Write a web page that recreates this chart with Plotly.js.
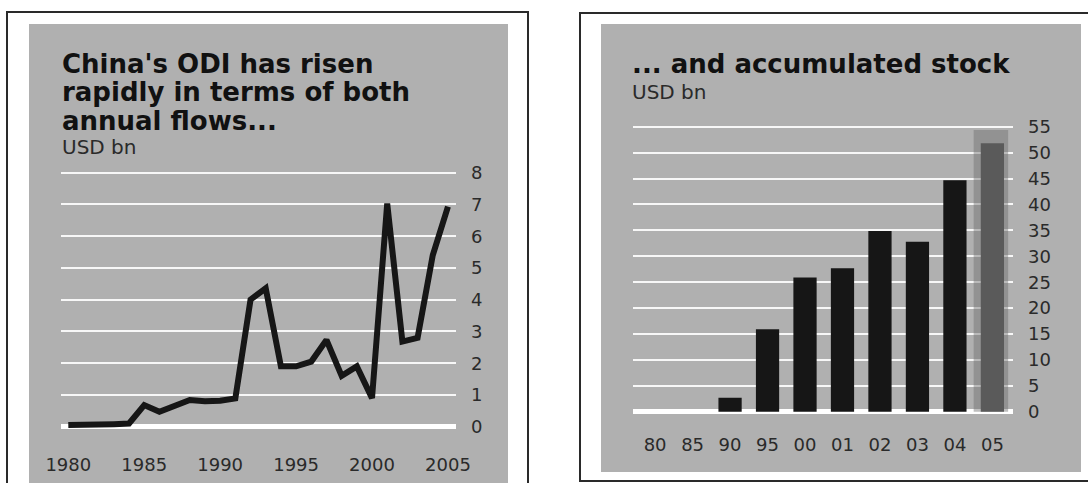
<!DOCTYPE html>
<html>
<head>
<meta charset="utf-8">
<script src="https://cdn.plot.ly/plotly-3.0.1.min.js"></script>
<style>
  html, body { margin: 0; padding: 0; background: #ffffff; }
  #chart { width: 1088px; height: 483px; }
</style>
</head>
<body>
<div id="chart"></div>
<script>
// Annual outward direct investment flows, USD bn
const flowYears = [1980, 1981, 1982, 1983, 1984, 1985, 1986, 1987, 1988, 1989,
                   1990, 1991, 1992, 1993, 1994, 1995, 1996, 1997, 1998, 1999,
                   2000, 2001, 2002, 2003, 2004, 2005];
const flowValues = [0.05, 0.05, 0.05, 0.08, 0.1, 0.68, 0.47, 0.68, 0.84, 0.8,
                    0.82, 0.89, 4.0, 4.36, 1.9, 1.9, 2.05, 2.73, 1.6, 1.9,
                    0.9, 7.03, 2.68, 2.8, 5.4, 6.93];
const flowTickYears = [1980, 1985, 1990, 1995, 2000, 2005];
const flowTickValues = [0, 1, 2, 3, 4, 5, 6, 7, 8];

// Accumulated stock of outward direct investment, USD bn
const stockLabels = ['80', '85', '90', '95', '00', '01', '02', '03', '04', '05'];
const stockValues = [0, 0, 2.7, 15.9, 25.9, 27.7, 34.9, 32.8, 44.7, 51.8];
const stockTickValues = [0, 5, 10, 15, 20, 25, 30, 35, 40, 45, 50, 55];
const stockHighlight = '05';

const leftTitleLines = ["China's ODI has risen", 'rapidly in terms of both', 'annual flows...'];
const rightTitle = '... and accumulated stock';
const unitLabel = 'USD bn';

const W = 1088, H = 483;
const px = x => x / W;          // pixel column -> paper x
const py = y => (H - y) / H;    // pixel row -> paper y

const panelGrey = '#b0b0b0';
const ink = '#161616';
const tickFont = { family: 'DejaVu Sans', size: 18, color: '#2a2a2a' };
const titleFont = { family: 'DejaVu Sans', size: 26, color: '#111111', weight: 'bold' };
const unitFont = { family: 'DejaVu Sans', size: 20, color: '#2a2a2a' };

const hiIndex = stockLabels.indexOf(stockHighlight);
const barColours = stockLabels.map(l => l === stockHighlight ? '#5a5a5a' : ink);

const traces = [
  {
    type: 'scatter', mode: 'lines',
    x: flowYears, y: flowValues,
    xaxis: 'x', yaxis: 'y',
    line: { color: ink, width: 6 },
    hoverinfo: 'skip', showlegend: false
  },
  {
    type: 'bar',
    x: stockLabels, y: stockValues,
    xaxis: 'x2', yaxis: 'y2',
    width: 0.62,
    marker: { color: barColours, line: { width: 0 } },
    hoverinfo: 'skip', showlegend: false
  }
];

const gridStyle = {
  showgrid: true, gridcolor: 'rgba(255,255,255,0.9)', gridwidth: 2,
  zeroline: true, zerolinecolor: '#ffffff', zerolinewidth: 5,
  showline: false, ticks: '', tickfont: tickFont
};

const layout = {
  width: W, height: H, autosize: false,
  margin: { l: 0, r: 0, t: 0, b: 0, pad: 0 },
  paper_bgcolor: '#ffffff', plot_bgcolor: 'rgba(0,0,0,0)',
  showlegend: false,
  xaxis: {
    domain: [px(61), px(456)], range: [1979.52, 2005.53],
    anchor: 'y', showgrid: false, zeroline: false, showline: false, ticks: '',
    tickmode: 'array', tickvals: flowTickYears, ticktext: flowTickYears.map(String),
    tickfont: tickFont, ticklabelstandoff: 16
  },
  yaxis: Object.assign({}, gridStyle, {
    domain: [py(436.2), py(163.2)], range: [-0.3, 8.3],
    anchor: 'x', side: 'right',
    tickmode: 'array', tickvals: flowTickValues, ticklabelstandoff: 14
  }),
  xaxis2: {
    domain: [px(633), px(1013)], range: [-0.59, 9.55],
    anchor: 'y2', type: 'category', showgrid: false, zeroline: false, showline: false, ticks: '',
    tickfont: tickFont, ticklabelstandoff: 12
  },
  yaxis2: Object.assign({}, gridStyle, {
    domain: [py(419.5), py(121.6)], range: [-1.5, 56],
    anchor: 'x2', side: 'right',
    tickmode: 'array', tickvals: stockTickValues, ticklabelstandoff: 14
  }),
  shapes: [
    // panel frames
    { type: 'rect', xref: 'paper', yref: 'paper', layer: 'below',
      x0: px(7), x1: px(528), y0: py(500), y1: py(12),
      line: { color: '#2a2a2a', width: 2 }, fillcolor: '#ffffff' },
    { type: 'rect', xref: 'paper', yref: 'paper', layer: 'below',
      x0: px(580), x1: px(1100), y0: py(481), y1: py(13),
      line: { color: '#2a2a2a', width: 2 }, fillcolor: '#ffffff' },
    // grey panel backgrounds
    { type: 'rect', xref: 'paper', yref: 'paper', layer: 'below',
      x0: px(29), x1: px(508), y0: py(490), y1: py(24),
      line: { width: 0 }, fillcolor: panelGrey },
    { type: 'rect', xref: 'paper', yref: 'paper', layer: 'below',
      x0: px(601), x1: px(1081), y0: py(472), y1: py(24),
      line: { width: 0 }, fillcolor: panelGrey },
    // shaded column behind the latest year
    { type: 'rect', xref: 'x2', yref: 'y2', layer: 'between',
      x0: hiIndex - 0.5, x1: hiIndex + 0.42, y0: 0, y1: 54.4,
      line: { width: 0 }, fillcolor: 'rgba(110,110,110,0.45)' }
  ],
  annotations: [
    ...leftTitleLines.map((t, i) => ({
      text: '<b>' + t + '</b>', xref: 'paper', yref: 'paper',
      x: px(60), y: py(64 + i * 28.3), xanchor: 'left', yanchor: 'middle',
      showarrow: false, font: titleFont
    })),
    { text: unitLabel, xref: 'paper', yref: 'paper', x: px(60), y: py(147),
      xanchor: 'left', yanchor: 'middle', showarrow: false, font: unitFont },
    { text: '<b>' + rightTitle + '</b>', xref: 'paper', yref: 'paper',
      x: px(630), y: py(64), xanchor: 'left', yanchor: 'middle',
      showarrow: false, font: titleFont },
    { text: unitLabel, xref: 'paper', yref: 'paper', x: px(630), y: py(92),
      xanchor: 'left', yanchor: 'middle', showarrow: false, font: unitFont }
  ]
};

Plotly.newPlot('chart', traces, layout, { staticPlot: true, displayModeBar: false });
</script>
</body>
</html>
